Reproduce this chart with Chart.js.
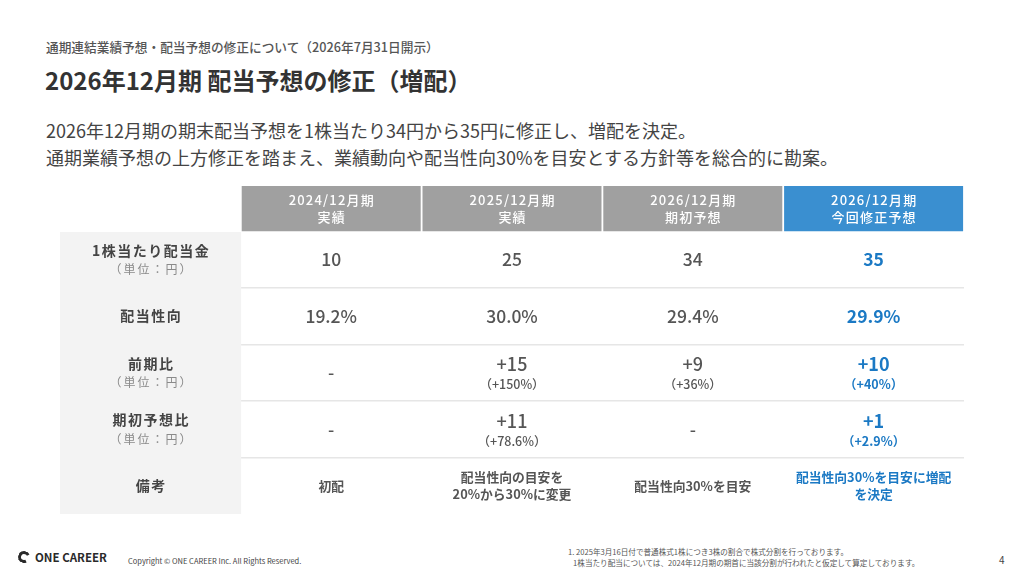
<!DOCTYPE html>
<html lang="ja">
<head>
<meta charset="utf-8">
<script src="https://cdn.jsdelivr.net/npm/chart.js@4.4.1/dist/chart.umd.min.js"></script>
<style>
  html, body { margin: 0; padding: 0; background: #fff; }
  body { width: 1024px; height: 576px; position: relative; overflow: hidden;
         font-family: "Noto Sans CJK JP", "Noto Sans", sans-serif; color: #444; }
  .kicker { position: absolute; left: 46px; top: 37px; font-size: 12.7px; color: #555; font-weight: 500; }
  .title { position: absolute; left: 45px; top: 62px; font-size: 24px; font-weight: 700; color: #333; }
  .lead { position: absolute; left: 46px; top: 117px; font-size: 18px; line-height: 27px; color: #444; }
  #wrap { position: absolute; left: 60px; top: 186px; width: 904px; height: 328px; }
  .logo { position: absolute; left: 18px; top: 549px; font-size: 11.5px; font-weight: 700; color: #2a2a2a; }
  .logo i { display: inline-block; width: 6px; height: 6px; border: 3px solid #2a2a2a; border-right-color: transparent;
            border-radius: 50%; vertical-align: -1px; margin-right: 5px; transform: rotate(20deg); }
  .copy { position: absolute; left: 128px; top: 555px; font-size: 7.5px; color: #444; }
  .note { position: absolute; left: 568px; top: 546px; font-size: 7.6px; line-height: 11px; color: #555; }
  .page { position: absolute; left: 999px; top: 552px; font-size: 10px; color: #444; }
</style>
</head>
<body>
<div class="kicker">通期連結業績予想・配当予想の修正について（2026年7月31日開示）</div>
<div class="title">2026年12月期 配当予想の修正（増配）</div>
<div class="lead">2026年12月期の期末配当予想を1株当たり34円から35円に修正し、増配を決定。<br>通期業績予想の上方修正を踏まえ、業績動向や配当性向30%を目安とする方針等を総合的に勘案。</div>
<div id="wrap"><canvas id="tbl"></canvas></div>
<div class="logo"><i></i>ONE CAREER</div>
<div class="copy">Copyright © ONE CAREER Inc. All Rights Reserved.</div>
<div class="note">1. 2025年3月16日付で普通株式1株につき3株の割合で株式分割を行っております。<br>&nbsp;&nbsp;&nbsp;1株当たり配当については、2024年12月期の期首に当該分割が行われたと仮定して算定しております。</div>
<div class="page">4</div>
<script>
// columns
const periods = ['2024/12月期', '2025/12月期', '2026/12月期', '2026/12月期'];
const periodTypes = ['実績', '実績', '期初予想', '今回修正予想'];
// rows
const rowLabels = ['1株当たり配当金', '配当性向', '前期比', '期初予想比', '備考'];
const rowUnits = ['（単位：円）', '', '（単位：円）', '（単位：円）', ''];
// values
const dividendPerShare = [10, 25, 34, 35];
const payoutRatio = [19.2, 30.0, 29.4, 29.9];
const yoyChange = [null, 15, 9, 10];
const yoyPct = [null, '150', '36', '40'];
const vsInitial = [null, 11, null, 1];
const vsInitialPct = [null, '78.6', null, '2.9'];
const remarks = ['初配', '配当性向の目安を\n20%から30%に変更', '配当性向30%を目安', '配当性向30%を目安に増配\nを決定'];

const headerH = 0.8;                 // header row height in row units
const nRows = rowLabels.length;
const yMax = headerH + nRows;
const FONT = '"Noto Sans CJK JP", "Noto Sans", sans-serif';
const GREY = '#555', BLUE = '#1b79c4';
const highlight = periods.length - 1;

const cats = [''].concat(periods.map((p, i) => p + ' ' + periodTypes[i]));

function cellText(r, c) {
  if (r === 0) return { main: String(dividendPerShare[c]) };
  if (r === 1) return { main: payoutRatio[c].toFixed(1) + '%' };
  if (r === 2) return yoyChange[c] == null ? { main: '-' } : { main: '+' + yoyChange[c], sub: '（+' + yoyPct[c] + '%）' };
  if (r === 3) return vsInitial[c] == null ? { main: '-' } : { main: '+' + vsInitial[c], sub: '（+' + vsInitialPct[c] + '%）' };
  return { remark: remarks[c] };
}

function put(ctx, s, x, y, ls) {
  ctx.letterSpacing = (ls || 0) + 'px';
  ctx.fillText(s, x + (ls || 0) / 2, y);
}

const textPlugin = {
  id: 'cellText',
  afterDatasetsDraw(chart) {
    const { ctx, scales: { x, y } } = chart;
    ctx.save();
    ctx.textAlign = 'center';
    ctx.textBaseline = 'middle';
    // header
    const hy = y.getPixelForValue(headerH / 2);
    periods.forEach((p, i) => {
      const cx = x.getPixelForValue(i + 1);
      ctx.fillStyle = '#fff';
      ctx.font = '500 13px ' + FONT;
      put(ctx, p, cx, hy - 8.5, 1.2);
      put(ctx, periodTypes[i], cx, hy + 8.5, 1.2);
    });
    // rows
    rowLabels.forEach((lab, r) => {
      const cy = y.getPixelForValue(headerH + r + 0.5);
      const lx = x.getPixelForValue(0);
      ctx.fillStyle = '#444';
      ctx.font = '700 14px ' + FONT;
      if (rowUnits[r]) {
        put(ctx, lab, lx, cy - 9, 1.5);
        ctx.fillStyle = '#8a8a8a';
        ctx.font = '400 12px ' + FONT;
        put(ctx, rowUnits[r], lx, cy + 10, 2);
      } else {
        put(ctx, lab, lx, cy, 1.5);
      }
      periods.forEach((p, c) => {
        const cx = x.getPixelForValue(c + 1);
        const t = cellText(r, c);
        const col = c === highlight ? BLUE : GREY;
        const w = c === highlight ? 700 : 500;
        ctx.fillStyle = col;
        if (t.remark) {
          const lines = t.remark.split('\n');
          ctx.font = '700 12.8px ' + FONT;
          lines.forEach((ln, k) => put(ctx, ln, cx, cy + (k - (lines.length - 1) / 2) * 17, 0));
        } else if (t.sub) {
          ctx.font = w + ' 18px ' + FONT;
          put(ctx, t.main, cx, cy - 8, 0);
          ctx.font = w + ' 12.5px ' + FONT;
          put(ctx, t.sub, cx, cy + 12, 0);
        } else {
          ctx.font = w + ' 17.5px ' + FONT;
          put(ctx, t.main, cx, cy, 0);
        }
      });
    });
    ctx.restore();
  }
};

new Chart(document.getElementById('tbl'), {
  type: 'bar',
  data: {
    labels: cats,
    datasets: [
      {
        label: 'header',
        data: cats.map((c, i) => i === 0 ? null : [0, headerH]),
        backgroundColor: cats.map((c, i) => i - 1 === highlight ? '#3a8fd0' : '#a0a0a0'),
        barPercentage: 0.99,
        categoryPercentage: 1,
        grouped: false
      },
      {
        label: 'row labels',
        data: cats.map((c, i) => i === 0 ? [headerH + 0.02, yMax] : null),
        backgroundColor: '#f3f3f3',
        barPercentage: 1,
        categoryPercentage: 1,
        grouped: false
      }
    ]
  },
  options: {
    responsive: true,
    maintainAspectRatio: false,
    animation: false,
    layout: { padding: 0 },
    events: [],
    scales: {
      x: { display: false },
      y: {
        min: 0,
        max: yMax,
        reverse: true,
        z: 1,
        afterBuildTicks: s => { s.ticks = rowLabels.slice(1).map((l, i) => ({ value: headerH + i + 1 })); },
        ticks: { display: false },
        border: { display: false },
        grid: { color: '#e6e6e6', lineWidth: 1.5, drawTicks: false }
      }
    },
    plugins: { legend: { display: false }, tooltip: { enabled: false } }
  },
  plugins: [textPlugin]
});
</script>
</body>
</html>
